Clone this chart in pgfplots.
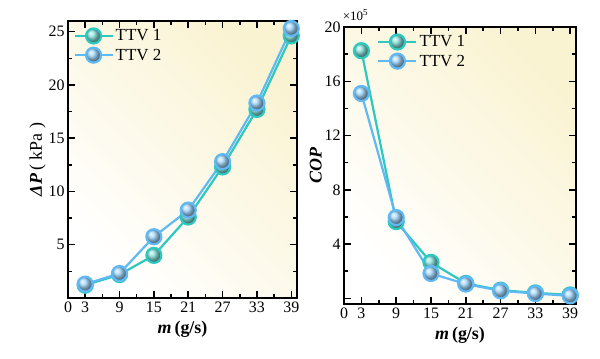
\documentclass[border=0pt]{standalone}
\usepackage{fontspec}
\setmainfont{Liberation Serif}
\usepackage{pgfplots}
\pgfplotsset{compat=1.18}
\definecolor{cA}{RGB}{45,200,190}
\definecolor{cB}{RGB}{95,185,245}
\definecolor{bgY}{RGB}{250,243,210}
\begin{document}
\begin{tikzpicture}
\path[use as bounding box] (0bp,0bp) rectangle (600bp,359bp);
\pgfplotsset{
  myax/.style={
    scale only axis,
    anchor=south west,
    clip=false,
    axis line style={line width=1.8bp},
    tick align=inside,
    major tick length=7bp,
    minor tick length=4bp,
    every tick/.style={black,line width=1.5bp},
    tick label style={font=\fontsize{16}{17}\selectfont},
    /pgf/number format/assume math mode=true,
    label style={font=\fontsize{18}{19}\selectfont},
    xmin=0,xmax=40,
    xtick={0,3,9,15,21,27,33,39},
    minor xtick={6,12,18,24,30,36},
    xlabel={\textbf{\textit{m}}\,\textbf{(g/s)}},
    xlabel style={yshift=-2bp},
    axis background/.style={top color=bgY,bottom color=white,shading angle=-45},
    legend style={draw=none,fill=none,font=\fontsize{17}{18}\selectfont,row sep=2bp},
    legend cell align=left,
    legend image code/.code={\draw[mark repeat=2,mark phase=2,#1] plot coordinates {(0bp,0bp) (19bp,0bp) (38bp,0bp)};},
  },
  s1/.style={color=cA,line width=2.2bp,mark=ball,mark size=7.5bp,mark options={ball color=cA!60!white}},
  s2/.style={color=cB,line width=2.2bp,mark=ball,mark size=7.5bp,mark options={ball color=cB!60!white}},
}
\begin{axis}[myax,
  at={(68bp,61bp)},width=229bp,height=277bp,
  ymin=0,ymax=26,
  ytick={5,10,15,20,25},
  minor ytick={2.5,7.5,12.5,17.5,22.5},
  ylabel={\textbf{\textit{ΔP}}\,( kPa )},
  ylabel style={yshift=-4bp},
  legend style={at={(0.01,0.985)},anchor=north west},
]
\addplot[s1] coordinates {(3,1.2) (9,2.2) (15,4.0) (21,7.6) (27,12.3) (33,17.7) (39,24.6)};
\addlegendentry{TTV 1}
\addplot[s2] coordinates {(3,1.3) (9,2.3) (15,5.75) (21,8.25) (27,12.8) (33,18.3) (39,25.3)};
\addlegendentry{TTV 2}
\end{axis}
\begin{axis}[myax,
  at={(344bp,55bp)},width=232bp,height=277bp,
  ymin=-0.42,ymax=20,
  ytick={0,4,8,12,16,20},
  yticklabels={,4,8,12,16,20},
  minor ytick={2,6,10,14,18},
  ylabel={\textbf{\textit{COP}}},
  ylabel style={yshift=-4bp},
  legend style={at={(0.13,0.985)},anchor=north west},
]
\addplot[s1] coordinates {(3,18.25) (9,5.65) (15,2.65) (21,1.1) (27,0.6) (33,0.4) (39,0.25)};
\addlegendentry{TTV 1}
\addplot[s2] coordinates {(3,15.1) (9,5.95) (15,1.83) (21,1.05) (27,0.55) (33,0.35) (39,0.18)};
\addlegendentry{TTV 2}
\node[anchor=south west,font=\fontsize{13}{14}\selectfont,inner sep=1bp] at (rel axis cs:-0.01,1.02) {×10\textsuperscript{5}};
\end{axis}
\end{tikzpicture}
\end{document}
